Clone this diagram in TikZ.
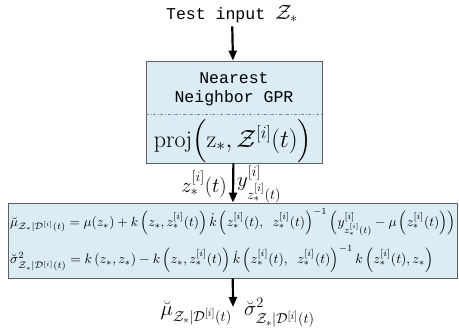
\documentclass[tikz,border=0pt]{standalone}
\usepackage{amsmath,amssymb}
\usepackage{graphicx}
\usepackage{fontspec}
\usepackage{tikz}
\usetikzlibrary{arrows.meta,positioning}
\newfontfamily\codefont{Liberation Mono}
\definecolor{boxfill}{RGB}{219,236,244}
\definecolor{boxline}{RGB}{95,95,95}
\definecolor{sepline}{RGB}{120,140,160}
\newcommand{\zs}{z_*^{[i]}(t)}
\newcommand{\cond}{\mathcal{Z}_*|\mathcal{D}^{[i]}(t)}

\begin{document}
\begin{tikzpicture}[
  x=1pt,y=-1pt,
  box/.style={draw=boxline,fill=boxfill,line width=0.8pt,inner sep=0pt},
  tt/.style={font=\codefont\fontsize{16.5}{19}\selectfont},
  lbl/.style={font=\fontsize{22}{26}\selectfont,inner sep=1pt},
  arr/.style={-{Triangle[length=10pt,width=8pt]},line width=2.2pt},
]
\useasboundingbox (0,0) rectangle (459,334);
% ----- input
\node[tt] (input) at (232,14) {Test input {\fontsize{21}{24}\selectfont$\mathcal{Z}_*$}};
% ----- GPR block
\node[box,minimum width=176pt,minimum height=102pt] (gpr) at (234,112) {};
\node[tt,align=center] (gprname) at (234,89) {Nearest\\Neighbor GPR};
\coordinate (sep) at (0,114);
\draw[sepline,dash dot] (gpr.west |- sep) -- (gpr.east |- sep);
\node (proj) at (233,141)
  {\fontsize{24}{28}\selectfont $\mathrm{proj}\Bigl(\mathrm{z}_*,\mathcal{Z}^{[i]}(t)\Bigr)$};
\draw[arr] (input) -- (gpr);
% ----- posterior block
\node[box,minimum width=449pt,minimum height=75pt] (post) at (232.5,240.5) {};
\node[anchor=west,inner sep=0pt] (mueq) at (10,222)
  {\resizebox{445pt}{!}{$\breve{\mu}_{\cond}=\mu(z_*)+k\left(z_*,\zs\right)\dot{k}\left(\zs,\;\;\zs\right)^{-1}\left(y^{[i]}_{\zs}-\mu\left(\zs\right)\right)$}};
\node[anchor=west,inner sep=0pt] (sigeq) at (10,259)
  {\resizebox{423pt}{!}{$\breve{\sigma}^2_{\cond}=k\left(z_*,z_*\right)-k\left(z_*,\zs\right)\dot{k}\left(\zs,\;\;\zs\right)^{-1}k\left(\zs,z_*\right)$}};
\draw[arr] (gpr) -- (post);
\coordinate (a2) at (233,184);
\node[lbl,left=5pt of a2] (zlab) {$\zs$};
\node[lbl,right=3pt of a2] (ylab) {$y^{[i]}_{\zs}$};
% ----- output
\coordinate (out) at (233,307);
\draw[arr] (post) -- (out);
\coordinate (a3) at (233,313);
\node[lbl,left=0pt of a3] (mulab) {$\breve{\mu}_{\cond}$};
\node[lbl,right=10pt of a3] (siglab) {$\breve{\sigma}^2_{\cond}$};
\end{tikzpicture}
\end{document}
